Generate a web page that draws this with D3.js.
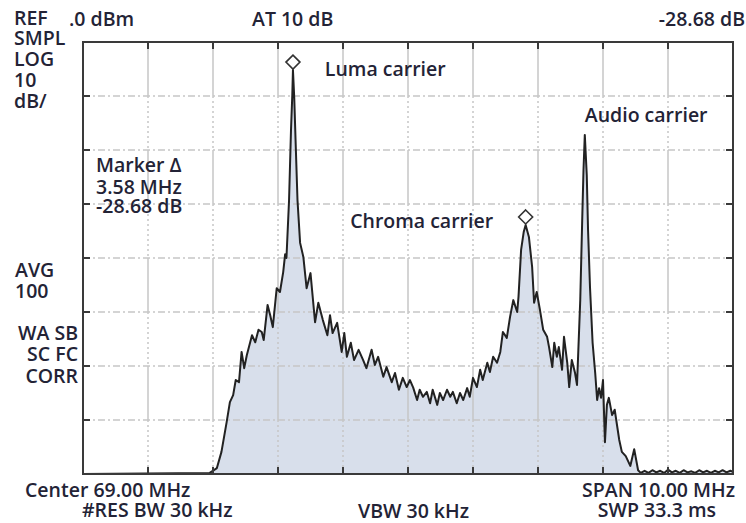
<!DOCTYPE html>
<html>
<head>
<meta charset="utf-8">
<script src="https://cdn.jsdelivr.net/npm/d3@7"></script>
<style>
  html, body { margin: 0; padding: 0; background: #fff; }
  svg { display: block; }
  text { font-family: "Open Sans", "Noto Sans", sans-serif; fill: #232336; }
</style>
</head>
<body>
<svg id="chart" width="746" height="523"></svg>
<script>
// Spectrum analyser sweep of a TV channel: 64–74 MHz, reference 0 dBm, 10 dB/div
const spanMHz = [64, 74];
const levelRangeDbm = [-80, 0];

// Measured trace: [frequency MHz, level dBm]
const trace = [
  [64.00,-80],[65.95,-79.8],[66.06,-78.9],[66.13,-75.9],[66.21,-70.4],[66.26,-66.7],
  [66.31,-65.4],[66.35,-62.6],[66.40,-63.0],[66.44,-57.4],[66.48,-60.4],[66.52,-58.0],
  [66.60,-54.3],[66.65,-55.6],[66.70,-53.3],[66.75,-53.7],[66.78,-55.2],[66.84,-48.7],
  [66.88,-50.6],[66.92,-52.8],[66.98,-45.6],[67.03,-46.3],[67.08,-42.6],[67.11,-39.3],
  [67.13,-40.0],[67.17,-29.3],[67.20,-16.3],[67.22,-9.8],[67.23,-5.2],[67.25,-10.4],
  [67.27,-18.1],[67.30,-29.3],[67.34,-37.2],[67.39,-39.8],[67.44,-45.6],[67.50,-42.8],
  [67.57,-51.9],[67.62,-48.3],[67.69,-51.5],[67.76,-54.3],[67.80,-50.6],[67.84,-53.9],
  [67.91,-52.0],[67.98,-57.4],[68.02,-53.9],[68.06,-58.3],[68.12,-55.7],[68.17,-58.9],
  [68.24,-57.0],[68.31,-58.9],[68.36,-60.4],[68.44,-57.0],[68.49,-59.8],[68.54,-58.3],
  [68.62,-62.0],[68.67,-60.2],[68.75,-63.0],[68.80,-61.3],[68.86,-64.4],[68.92,-62.2],
  [68.98,-63.9],[69.03,-62.6],[69.08,-64.0],[69.14,-66.3],[69.18,-64.4],[69.23,-65.7],
  [69.29,-64.8],[69.34,-66.9],[69.38,-64.4],[69.45,-67.2],[69.49,-65.0],[69.54,-66.3],
  [69.60,-64.4],[69.65,-65.7],[69.69,-64.8],[69.75,-66.9],[69.80,-65.0],[69.85,-66.3],
  [69.91,-64.1],[69.95,-65.7],[70.00,-62.2],[70.06,-63.9],[70.11,-60.7],[70.15,-62.6],
  [70.22,-59.4],[70.26,-61.1],[70.31,-58.3],[70.37,-59.4],[70.42,-57.4],[70.46,-53.7],
  [70.52,-54.8],[70.57,-50.9],[70.62,-47.8],[70.68,-50.0],[70.70,-47.2],[70.74,-38.5],
  [70.78,-35.2],[70.81,-33.88],[70.86,-36.1],[70.91,-41.7],[70.94,-48.3],[70.98,-46.3],
  [71.03,-49.6],[71.08,-53.3],[71.14,-54.6],[71.17,-56.5],[71.22,-60.2],[71.25,-55.7],
  [71.29,-58.3],[71.32,-56.5],[71.37,-60.7],[71.40,-54.6],[71.45,-59.4],[71.48,-63.9],
  [71.52,-58.9],[71.57,-61.3],[71.60,-63.5],[71.65,-47.8],[71.68,-33.0],[71.70,-23.7],
  [71.72,-17.2],[71.75,-24.6],[71.77,-34.8],[71.80,-45.4],[71.84,-55.7],[71.88,-61.3],
  [71.91,-66.3],[71.94,-64.1],[71.97,-65.9],[72.00,-62.6],[72.03,-74.1],[72.06,-67.2],
  [72.09,-65.9],[72.14,-69.1],[72.18,-68.1],[72.25,-73.7],[72.29,-75.9],[72.35,-76.7],
  [72.42,-78.5],[72.48,-75.4],[72.54,-79.3],[72.58,-79.8],[72.64,-79.4],[72.70,-79.8],
  [72.76,-79.3],[72.82,-79.7],[72.88,-79.4],[72.94,-79.8],[73.00,-79.2],[73.06,-79.7],
  [73.12,-79.4],[73.18,-79.8],[73.24,-79.3],[73.30,-79.7],[73.36,-79.5],[73.42,-79.8],
  [73.48,-79.3],[73.54,-79.7],[73.60,-79.4],[73.66,-79.8],[73.72,-79.4],[73.78,-79.7],
  [73.84,-79.3],[73.90,-79.7],[73.96,-79.4],[74.00,-79.6]
];

// Markers: reference marker on the luma carrier, delta marker to the chroma carrier
const lumaMarker = { mhz: 67.23, dbm: -5.2 };
const markerDeltaMHz = 3.58;
const markerDeltaDb = -28.68;

// Carrier annotations [text, MHz, dBm] (label anchor: left end of the baseline)
const carrierLabels = [
  ["Luma carrier", 67.72, -6.3],
  ["Chroma carrier", 68.11, -34.4],
  ["Audio carrier", 71.72, -14.8]
];

// Instrument settings readouts
const leftStatus = ["REF", "SMPL", "LOG", "10", "dB/"];
const avgStatus = ["AVG", "100"];
const corrStatus = ["WA SB", "SC FC", "CORR"];
const topReadouts = [".0 dBm", "AT 10 dB"];
const bottomLeft = ["Center 69.00 MHz", "#RES BW 30 kHz"];
const bottomMid = "VBW 30 kHz";
const bottomRight = ["SPAN 10.00 MHz", "SWP 33.3 ms"];

const svg = d3.select("#chart");
const frame = { left: 83, right: 733, top: 42, bottom: 474 };

const x = d3.scaleLinear().domain(spanMHz).range([frame.left, frame.right]);
const y = d3.scaleLinear().domain(levelRangeDbm).range([frame.bottom, frame.top]);

const xTicks = d3.range(spanMHz[0], spanMHz[1] + 0.5, 1);
const yTicks = d3.range(levelRangeDbm[0], levelRangeDbm[1] + 5, 10);

// Filled area under the trace
const area = d3.area()
  .x(d => x(d[0]))
  .y0(y(levelRangeDbm[0]))
  .y1(d => y(d[1]));
svg.append("path")
  .datum(trace)
  .attr("d", area)
  .attr("fill", "#d8dfeb");

// Graticule: vertical divisions alternate solid / dotted by row
const grid = svg.append("g").attr("stroke", "#c6c6c6").attr("stroke-width", 1.5).attr("fill", "none");
xTicks.slice(1, -1).forEach(f => {
  for (let r = 0; r < yTicks.length - 1; r++) {
    const top = yTicks[yTicks.length - 1 - r], bot = yTicks[yTicks.length - 2 - r];
    grid.append("line")
      .attr("x1", x(f)).attr("x2", x(f))
      .attr("y1", y(top)).attr("y2", y(bot))
      .attr("stroke-dasharray", r % 2 === 0 ? null : "2,3");
  }
});
yTicks.slice(1, -1).forEach(v => {
  grid.append("line")
    .attr("x1", x(spanMHz[0])).attr("x2", x(spanMHz[1]))
    .attr("y1", y(v)).attr("y2", y(v))
    .attr("stroke-dasharray", "7,3,2,3");
});

// Trace
const line = d3.line().x(d => x(d[0])).y(d => y(d[1]));
svg.append("path")
  .datum(trace)
  .attr("d", line)
  .attr("fill", "none")
  .attr("stroke", "#222")
  .attr("stroke-width", 2)
  .attr("stroke-linejoin", "round");

// Frame with tick marks on all four edges
const axisG = svg.append("g").attr("stroke", "#3a3a3a").attr("stroke-width", 2);
axisG.append("rect")
  .attr("x", x(spanMHz[0])).attr("y", y(levelRangeDbm[1]))
  .attr("width", x(spanMHz[1]) - x(spanMHz[0]))
  .attr("height", y(levelRangeDbm[0]) - y(levelRangeDbm[1]))
  .attr("fill", "none");
const tk = 7;
xTicks.slice(1, -1).forEach(f => {
  axisG.append("line").attr("x1", x(f)).attr("x2", x(f)).attr("y1", frame.top).attr("y2", frame.top + tk);
  axisG.append("line").attr("x1", x(f)).attr("x2", x(f)).attr("y1", frame.bottom).attr("y2", frame.bottom - tk);
});
yTicks.slice(1, -1).forEach(v => {
  axisG.append("line").attr("x1", frame.left).attr("x2", frame.left + tk).attr("y1", y(v)).attr("y2", y(v));
  axisG.append("line").attr("x1", frame.right).attr("x2", frame.right - tk).attr("y1", y(v)).attr("y2", y(v));
});

// Marker diamonds
const chromaMarker = { mhz: lumaMarker.mhz + markerDeltaMHz, dbm: lumaMarker.dbm + markerDeltaDb };
const diamond = (cx, cy, r) => `M${cx},${cy - r}L${cx + r},${cy}L${cx},${cy + r}L${cx - r},${cy}Z`;
[lumaMarker, chromaMarker].forEach(m => {
  svg.append("path")
    .attr("d", diamond(x(m.mhz), y(m.dbm) - 8, 7))
    .attr("fill", "#fff")
    .attr("stroke", "#333")
    .attr("stroke-width", 1.6);
});

// Text
const fs = 19.5;
const addText = (t, tx, ty, anchor) => svg.append("text")
  .attr("x", tx).attr("y", ty)
  .attr("font-size", fs)
  .attr("font-weight", 600)
  .attr("text-anchor", anchor || "start")
  .text(t);

carrierLabels.forEach(([t, f, v]) => addText(t, x(f), y(v)));

leftStatus.forEach((t, i) => addText(t, 14, [25, 45, 66, 87, 108][i]));
addText(topReadouts[0], 69, 26);
addText(topReadouts[1], 252, 26);
addText(markerDeltaDb.toFixed(2) + " dB", 745, 26, "end");

addText("Marker \u0394", 96, 172);
addText(markerDeltaMHz.toFixed(2) + " MHz", 96, 194);
addText(markerDeltaDb.toFixed(2) + " dB", 96, 213);

avgStatus.forEach((t, i) => addText(t, 15, [277, 298][i]));
corrStatus.forEach((t, i) => addText(t, 78, [340, 361, 383][i], "end"));

addText(bottomLeft[0], 25, 497);
addText(bottomLeft[1], 82, 517);
addText(bottomMid, 358, 518);
addText(bottomRight[0], 735, 497, "end");
addText(bottomRight[1], 716, 517, "end");
</script>
</body>
</html>
